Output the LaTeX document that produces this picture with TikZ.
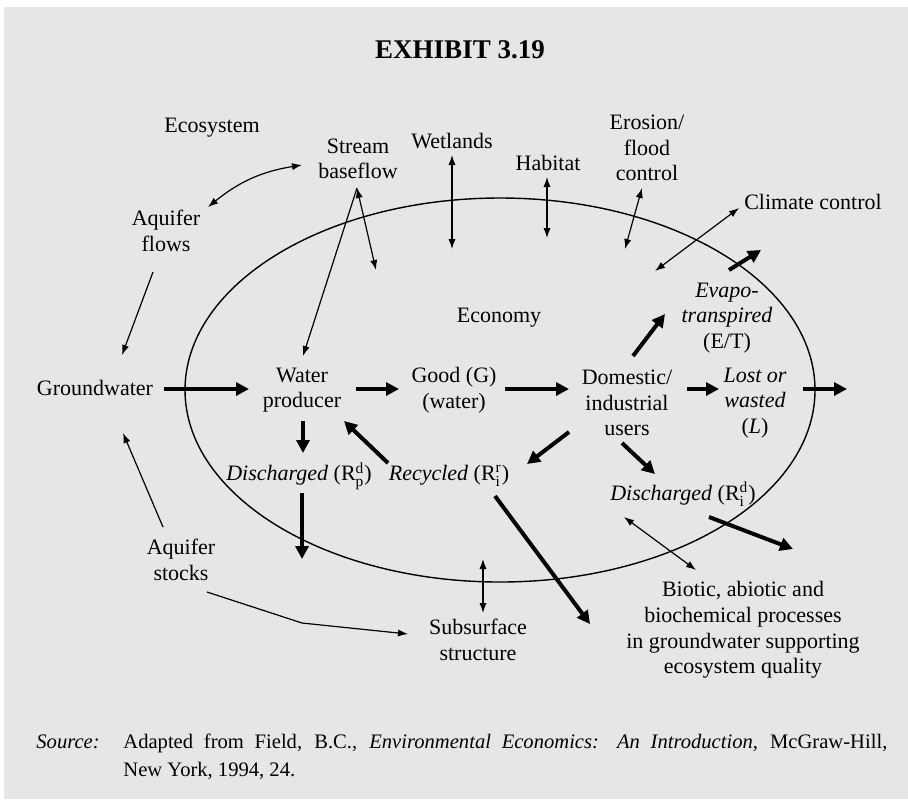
\documentclass[tikz,border=0pt]{standalone}
\usepackage{fontspec}
\setmainfont{Liberation Serif}
\usetikzlibrary{arrows.meta}
\definecolor{bgc}{RGB}{230,230,230}
\newcommand{\RSS}[2]{R$^{\mathrm{#1}}_{\mathrm{#2}}$}
\begin{document}
\begin{tikzpicture}[x=0.5pt,y=-0.5pt,
  lbl/.style={font=\fontsize{11}{12.8}\selectfont, align=center, inner sep=0pt},
  thinarr/.style={line width=0.6pt, -{Latex[length=5pt,width=3.6pt]}},
  botharr/.style={line width=0.6pt, {Latex[length=5pt,width=3.6pt]}-{Latex[length=5pt,width=3.6pt]}},
  thickarr/.style={line width=2pt, -{Triangle[length=6.5pt,width=6.5pt]}},
  pt/.style={inner sep=0pt, outer sep=0pt}
]
\useasboundingbox (0,0) rectangle (908,799);
\fill[white] (0,0) rectangle (908,799);
\fill[bgc] (4,7) rectangle (908,799);

% title
\node[anchor=base, inner sep=0pt, font=\fontsize{13.5}{16}\selectfont\bfseries] (title) at (460,58) {EXHIBIT 3.19};

% ellipse
\draw[line width=0.7pt] (500,390) ellipse [x radius=157.5pt, y radius=96pt];

% labels
\node[lbl] (eco) at (212,128) {Ecosystem};
\node[lbl] (stream) at (358,159) {Stream\\baseflow};
\node[lbl] (wet) at (452,141) {Wetlands};
\node[lbl] (hab) at (548,163) {Habitat};
\node[lbl] (ero) at (647,148) {Erosion/\\flood\\control};
\node[lbl] (clim) at (813,202) {Climate control};
\node[lbl] (aqf) at (166,231) {Aquifer\\flows};
\node[lbl] (gw) at (95,388) {Groundwater};
\node[lbl] (prod) at (302,390) {Water\\producer};
\node[lbl] (good) at (454,390) {Good (G)\\(water)};
\node[lbl] (econ) at (499,318) {Economy};
\node[lbl] (evap) at (727,318) {\itshape Evapo-\\\itshape transpired\\(E/T)};
\node[lbl] (dom) at (627,403) {Domestic/\\industrial\\users};
\node[lbl] (lost) at (755,403) {\itshape Lost or\\\itshape wasted\\(\textit{L})};
\node[lbl] (dischp) at (299,476) {\textit{Discharged} (\RSS{d}{p})};
\node[lbl] (recyc) at (449,476) {\textit{Recycled} (\RSS{r}{i})};
\node[lbl] (dischi) at (683,494) {\textit{Discharged} (\RSS{d}{i})};
\node[lbl] (aqs) at (181,560) {Aquifer\\stocks};
\node[lbl] (sub) at (478,640) {Subsurface\\structure};
\node[lbl] (bio) at (743,630) {Biotic, abiotic and\\biochemical processes\\in groundwater supporting\\ecosystem quality};

% caption
\node[anchor=base west, inner sep=0pt, font=\fontsize{10.3}{14}\selectfont\itshape] (srclab) at (36,748) {Source:};
\node[anchor=base west, inner sep=0pt, font=\fontsize{10.3}{14}\selectfont] (src1) at (123,748) {\makebox[382pt][s]{Adapted from Field, B.C., \textit{Environmental Economics: An Introduction,} McGraw-Hill,}};
\node[anchor=base west, inner sep=0pt, font=\fontsize{10.3}{14}\selectfont] (src2) at (123,776) {New York, 1994, 24.};

% coordinates for connector ends
\coordinate (t1a) at (208,207); \coordinate (t1b) at (302,165);
\coordinate (t2a) at (153,272); \coordinate (t2b) at (122,355);
\coordinate (t3a) at (357,188); \coordinate (t3b) at (376,270);
\coordinate (t4b) at (303,356);
\coordinate (t5a) at (452,155); \coordinate (t5b) at (452,249);
\coordinate (t6a) at (547,177); \coordinate (t6b) at (547,238);
\coordinate (t7a) at (642,188); \coordinate (t7b) at (625,249);
\coordinate (t8a) at (739,208); \coordinate (t8b) at (655,271);
\coordinate (t9a) at (163,527); \coordinate (t9b) at (123,433);
\coordinate (t10a) at (207,592); \coordinate (t10m) at (302,623); \coordinate (t10b) at (408,634);
\coordinate (t11a) at (483,559); \coordinate (t11b) at (483,613);
\coordinate (t12a) at (624,517); \coordinate (t12b) at (696,570);

\coordinate (ka1) at (164,389); \coordinate (ka2) at (249,389);
\coordinate (kb1) at (356,389); \coordinate (kb2) at (399,389);
\coordinate (kc1) at (505,389); \coordinate (kc2) at (569,389);
\coordinate (kd1) at (687,389); \coordinate (kd2) at (719,389);
\coordinate (ke1) at (803,389); \coordinate (ke2) at (847,389);
\coordinate (kf1) at (633,356); \coordinate (kf2) at (665,314);
\coordinate (kg1) at (729,270); \coordinate (kg2) at (761,250);
\coordinate (kh1) at (569,432); \coordinate (kh2) at (527,464);
\coordinate (ki1) at (622,443); \coordinate (ki2) at (655,474);
\coordinate (kj1) at (303,421); \coordinate (kj2) at (303,453);
\coordinate (kk1) at (388,463); \coordinate (kk2) at (344,421);
\coordinate (kl1) at (302,493); \coordinate (kl2) at (302,559);
\coordinate (km1) at (495,496); \coordinate (km2) at (590,624);
\coordinate (kn1) at (709,517); \coordinate (kn2) at (793,549);

% thin arrows
\draw[botharr] (t1a) to[bend left=15] (t1b);
\draw[thinarr] (t2a) -- (t2b);
\draw[botharr] (t3a) -- (t3b);
\draw[thinarr] (t3a) -- (t4b);
\draw[botharr] (t5a) -- (t5b);
\draw[botharr] (t6a) -- (t6b);
\draw[botharr] (t7a) -- (t7b);
\draw[botharr] (t8a) -- (t8b);
\draw[thinarr] (t9a) -- (t9b);
\draw[thinarr] (t10a) -- (t10m) -- (t10b);
\draw[botharr] (t11a) -- (t11b);
\draw[botharr] (t12a) -- (t12b);

% thick arrows
\draw[thickarr] (ka1) -- (ka2);
\draw[thickarr] (kb1) -- (kb2);
\draw[thickarr] (kc1) -- (kc2);
\draw[thickarr] (kd1) -- (kd2);
\draw[thickarr] (ke1) -- (ke2);
\draw[thickarr] (kf1) -- (kf2);
\draw[thickarr] (kg1) -- (kg2);
\draw[thickarr] (kh1) -- (kh2);
\draw[thickarr] (ki1) -- (ki2);
\draw[thickarr] (kj1) -- (kj2);
\draw[thickarr] (kk1) -- (kk2);
\draw[thickarr] (kl1) -- (kl2);
\draw[thickarr] (km1) -- (km2);
\draw[thickarr] (kn1) -- (kn2);
\end{tikzpicture}
\end{document}
